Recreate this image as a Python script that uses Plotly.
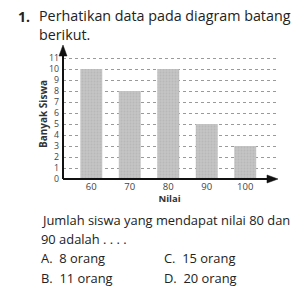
import plotly.graph_objects as go

nilai = [60, 70, 80, 90, 100]
banyak_siswa = [10, 8, 10, 5, 3]
y_ticks = list(range(0, 12))

fig = go.Figure()
fig.add_trace(go.Bar(
    x=nilai, y=banyak_siswa, width=5.7,
    marker=dict(color="#bcbcbc", line=dict(width=0),
                pattern=dict(shape=".", fgcolor="#ababab", bgcolor="#c4c4c4", size=3, solidity=0.3)),
))

FONT = "Open Sans"
L, R, T, B = 63, 32, 47, 115
W, H = 308, 294
AX = "#111111"
fig.update_layout(
    width=W, height=H,
    margin=dict(l=L, r=R, t=T, b=B),
    paper_bgcolor="white", plot_bgcolor="white",
    showlegend=False,
    font=dict(family=FONT, color="#333"),
)
fig.update_xaxes(
    range=[52.65, 108.0], tickvals=nilai, ticktext=[str(v) for v in nilai],
    showgrid=False, zeroline=False, showline=False, ticks="",
    tickfont=dict(size=9.5, color="#444"),
    title=dict(text="<b>Nilai</b>", font=dict(size=9.5, color="#333"), standoff=3),
)
fig.update_yaxes(
    range=[0, 12], tickvals=y_ticks, ticktext=[str(v) for v in y_ticks],
    showgrid=True, gridcolor="#9a9a9a", griddash="dot", gridwidth=0.8,
    zeroline=False, showline=False, ticks="",
    tickfont=dict(size=8.8, color="#444"), ticklabelstandoff=3,
)

def px(xp, yp):
    # convert pixel coords to paper coords
    return (xp - L) / (W - L - R), (H - B - yp) / (H - T - B)

# axis lines drawn as shapes (in axis-domain coordinates)
fig.add_shape(type="line", xref="x domain", yref="y domain", x0=0, y0=0, x1=0, y1=0.97,
              line=dict(color=AX, width=2), layer="above")
fig.add_shape(type="line", xref="x domain", yref="y domain", x0=0, y0=0, x1=0.97, y1=0,
              line=dict(color=AX, width=2), layer="above")

# y-axis title
a, b = px(43, 114)
fig.add_annotation(x=a, y=b, xref="paper", yref="paper", showarrow=False, textangle=-90,
                   text="<b>Banyak Siswa</b>", font=dict(family=FONT, size=10, color="#333"),
                   xanchor="center", yanchor="middle")

# arrowheads
def tri(points):
    pts = [px(*p) for p in points]
    return "M " + " L ".join(f"{x:.4f},{y:.4f}" for x, y in pts) + " Z"

fig.add_shape(type="path", xref="paper", yref="paper", layer="above",
              path=tri([(63, 45), (59, 56), (67, 56)]),
              fillcolor=AX, line=dict(color=AX, width=0.5))
fig.add_shape(type="path", xref="paper", yref="paper", layer="above",
              path=tri([(278, 179), (267, 175), (267, 183)]),
              fillcolor=AX, line=dict(color=AX, width=0.5))

def txt(size):
    return dict(xref="paper", yref="paper", showarrow=False, xanchor="left", yanchor="middle",
                align="left", font=dict(family=FONT, size=size, color="#222"))

for (xp, yp, t, s) in [
    (16, 16, "<b>1.</b>", 14),
    (37, 24.5, "Perhatikan data pada diagram batang<br>berikut.", 14.3),
    (39, 220, "Jumlah siswa yang mendapat nilai 80 dan", 12.9),
    (39, 239, "90 adalah . . . .", 12.9),
    (39, 258, "A.  8 orang", 12.9),
    (162, 258, "C.  15 orang", 12.9),
    (39, 278, "B.  11 orang", 12.9),
    (162, 278, "D.  20 orang", 12.9),
]:
    a, b = px(xp, yp)
    fig.add_annotation(x=a, y=b, text=t, **txt(s))

fig.write_html("out.html")
